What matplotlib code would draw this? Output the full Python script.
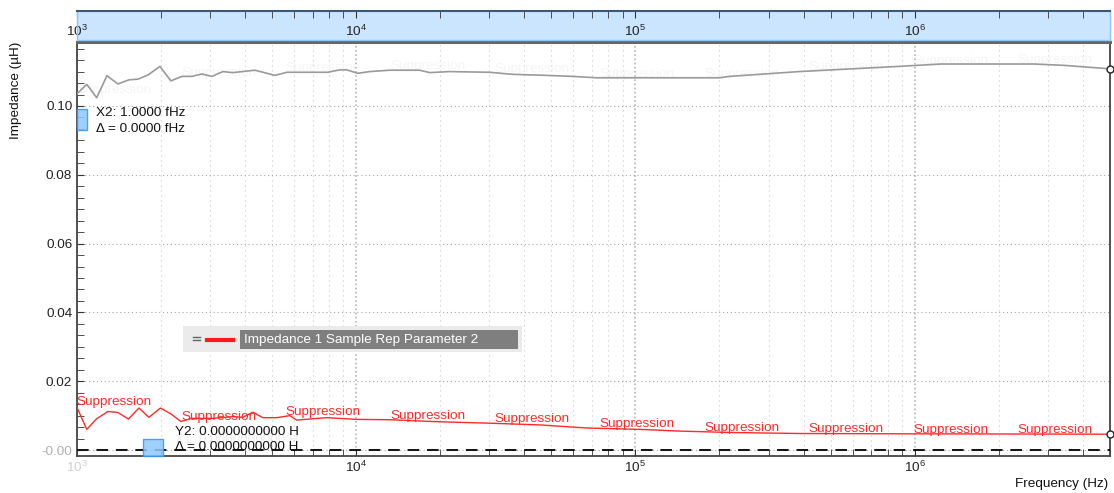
import numpy as np
import matplotlib.pyplot as plt
from matplotlib.patches import Rectangle
from matplotlib.lines import Line2D
from matplotlib.ticker import LogLocator, MultipleLocator, NullFormatter

plt.rcParams['font.family'] = ['Liberation Sans', 'DejaVu Sans']
plt.rcParams['font.size'] = 9.7
plt.rcParams['mathtext.default'] = 'regular'

# gray trace (reference), frequency in Hz, impedance in uH
freq_gray = [1000, 1088, 1181, 1285, 1407, 1541, 1659, 1801, 1989, 2177, 2383, 2588,
             2811, 3053, 3340, 3627, 4354, 5130, 5664, 7936, 8756, 9273, 10150, 11200,
             13210, 16920, 18370, 21640, 30090, 36370, 48150, 59660, 72710, 199700,
             217000, 386200, 594600, 872600, 1241000, 2682000, 3436000, 5000000]
imp_gray = [0.1034, 0.1063, 0.1024, 0.1088, 0.1064, 0.1076, 0.1078, 0.1090, 0.1115, 0.1073,
            0.1086, 0.1086, 0.1093, 0.1086, 0.1100, 0.1097, 0.1104, 0.1089, 0.1098, 0.1098,
            0.1105, 0.1105, 0.1095, 0.1100, 0.1104, 0.1104, 0.1097, 0.1100, 0.1098, 0.1092,
            0.1089, 0.1086, 0.1082, 0.1082, 0.1086, 0.1100, 0.1108, 0.1115, 0.1122, 0.1122,
            0.1118, 0.1108]

# red trace (suppression)
freq_red = [1000, 1088, 1181, 1296, 1407, 1534, 1673, 1816, 1997, 2177, 2364, 2588,
            3076, 3627, 3938, 4276, 4643, 5210, 5798, 6142, 7865, 10070, 13210, 19930,
            30090, 45410, 66880, 103400, 143800, 217000, 386200, 995300, 5000000]
imp_red = [0.0127, 0.0060, 0.0091, 0.0112, 0.0109, 0.0090, 0.0122, 0.0095, 0.0122, 0.0105,
           0.0083, 0.0092, 0.0092, 0.0097, 0.0095, 0.0110, 0.0094, 0.0094, 0.0100, 0.0087,
           0.0094, 0.0089, 0.0088, 0.0082, 0.0078, 0.0073, 0.0064, 0.0060, 0.0055, 0.0051,
           0.0048, 0.0047, 0.0046]

x_major = [1e3, 1e4, 1e5, 1e6]
x_labels = [r'$10^{3}$', r'$10^{4}$', r'$10^{5}$', r'$10^{6}$']
y_ticks = [0.0, 0.02, 0.04, 0.06, 0.08, 0.10]
y_labels = ['-0.00', '0.02', '0.04', '0.06', '0.08', '0.10']
trace_label = 'Suppression'
n_trace_labels = 10
legend_label = 'Impedance 1 Sample Rep Parameter 2'

W, H = 1114, 493
fig = plt.figure(figsize=(W / 100, H / 100), dpi=100)


def fx(x):
    return x / W


def fy(y):
    return 1 - y / H


L, R, T, B = 76.5, 1110, 42, 456
ax = fig.add_axes([fx(L), fy(B), (R - L) / W, (B - T) / H])
ax.set_xscale('log')
ax.set_xlim(1000, 5e6)
ax.set_ylim(-0.00174, 0.1186)

ax.plot(freq_gray, imp_gray, color='#9a9a9a', lw=1.2, zorder=3)
ax.plot(freq_red, imp_red, color='#ff2a2a', lw=1.0, zorder=3)
ax.plot(freq_gray[-1], imp_gray[-1], 'o', mfc='white', mec='#222222', ms=5, clip_on=False, zorder=5)
ax.plot(freq_red[-1], imp_red[-1], 'o', mfc='white', mec='#222222', ms=5, clip_on=False, zorder=5)
ax.axhline(0, color='#111111', lw=1.4, dashes=(6, 4), zorder=4)

# trace labels spaced evenly in log frequency
lab_f = 1000 * 10 ** (0.3743 * np.arange(n_trace_labels))
lg = np.log10(lab_f)
for f, yr, yg in zip(lab_f, np.interp(lg, np.log10(freq_red), imp_red),
                     np.interp(lg, np.log10(freq_gray), imp_gray)):
    ax.annotate(trace_label, (f, yr), xytext=(0, 3), textcoords='offset points',
                ha='left', va='center', color='#ff2a2a', zorder=4)
    ax.annotate(trace_label, (f, yg), xytext=(0, 3), textcoords='offset points',
                ha='left', va='center', color='#f5f5f5', zorder=2)

ax.set_xticks(x_major)
xl = ax.set_xticklabels(x_labels)
ax.xaxis.set_minor_locator(LogLocator(subs=np.arange(2, 10)))
ax.xaxis.set_minor_formatter(NullFormatter())
ax.set_yticks(y_ticks)
yl = ax.set_yticklabels(y_labels)
ax.yaxis.set_minor_locator(MultipleLocator(0.02 / 6))

ax.tick_params(which='both', direction='in', length=5, color='#333333', labelcolor='#222222',
               top=False, right=False, pad=3)
xl[0].set_color('#d0d0d0')
yl[0].set_color('#b0b0b0')
ax.grid(which='major', axis='y', ls=(0, (1, 2.5)), color='#a8a8a8', lw=0.8)
ax.grid(which='major', axis='x', ls=(0, (1, 1.5)), color='#b4b4b4', lw=1.2)
ax.grid(which='minor', axis='x', ls=(0, (1, 3.5)), color='#c8c8c8', lw=0.8)
for s in ['left', 'bottom', 'right']:
    ax.spines[s].set_color('#444444')
    ax.spines[s].set_linewidth(1.3)
ax.spines['top'].set_color('#666666')
ax.spines['top'].set_linewidth(2.2)

# top frequency band
band = fig.add_axes([fx(L), fy(40), (R - L) / W, 29 / H])
band.set_xscale('log')
band.set_xlim(1000, 5e6)
band.set_facecolor('#cce5ff')
band.set_yticks([])
band.xaxis.set_ticks_position('top')
band.set_xticks(x_major)
band.set_xticklabels(x_labels)
band.xaxis.set_minor_locator(LogLocator(subs=np.arange(2, 10)))
band.xaxis.set_minor_formatter(NullFormatter())
band.tick_params(which='both', direction='in', length=5, color='#333333', labelcolor='#222222',
                 labeltop=True, labelbottom=False, pad=-20)
band.spines['top'].set_color('#3a5878')
band.spines['top'].set_linewidth(1.5)
for s in ['bottom', 'left', 'right']:
    band.spines[s].set_color('#8cc6ff')
    band.spines[s].set_linewidth(1.0)

# cursor handles and readouts
fig.add_artist(Rectangle((fx(77), fy(130)), 10 / W, 21 / H, transform=fig.transFigure,
                         facecolor='#8fc8ff', edgecolor='#2f96ff', lw=1, alpha=0.85))
fig.add_artist(Rectangle((fx(143), fy(456)), 20 / W, 17 / H, transform=fig.transFigure,
                         facecolor='#8fc8ff', edgecolor='#2f96ff', lw=1, alpha=0.85))
fig.text(fx(96), fy(113), 'X2: 1.0000 fHz', va='center', color='#111111')
fig.text(fx(96), fy(129), '\u0394 = 0.0000 fHz', va='center', color='#111111')
fig.text(fx(175), fy(440), 'X1: 0.0000000000 H', va='center', color='#ececec')
fig.text(fx(175), fy(432), 'Y2: 0.0000000000 H', va='center', color='#111111')
fig.text(fx(175), fy(447), '\u0394 = 0.0000000000 H', va='center', color='#111111')

# legend box
fig.add_artist(Rectangle((fx(183), fy(352)), 339 / W, 26 / H, transform=fig.transFigure,
                         facecolor='#ebebeb', edgecolor='none'))
fig.add_artist(Rectangle((fx(240), fy(349)), 278 / W, 19 / H, transform=fig.transFigure,
                         facecolor='#7f7f7f', edgecolor='none'))
fig.add_artist(Line2D([fx(207), fx(233)], [fy(339.5), fy(339.5)], transform=fig.transFigure,
                      color='#ff1a1a', lw=3))
fig.add_artist(Line2D([fx(193), fx(200)], [fy(337), fy(337)], transform=fig.transFigure,
                      color='#666666', lw=1))
fig.add_artist(Line2D([fx(193), fx(200)], [fy(340), fy(340)], transform=fig.transFigure,
                      color='#666666', lw=1))
fig.text(fx(244), fy(339.5), legend_label, va='center', color='white')

fig.text(fx(16), fy(42), 'Impedance (\u00b5H)', rotation=90, ha='center', va='top', color='#111111')
fig.text(fx(1108), fy(484), 'Frequency (Hz)', ha='right', va='center', color='#111111')

fig.savefig('out.png', dpi=100)
